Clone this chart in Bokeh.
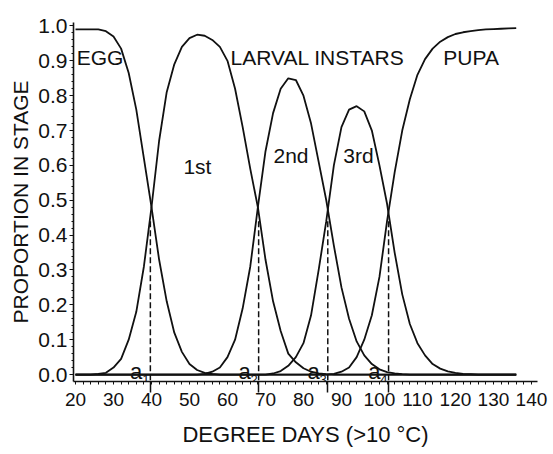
import numpy as np
from bokeh.plotting import figure
from bokeh.models import Range1d, FixedTicker, LinearAxis, PrintfTickFormatter
from bokeh.core.properties import value
from bokeh.embed import file_html
from bokeh.resources import INLINE

# ---------------- data ----------------
DEGREE_DAYS = list(range(20, 137, 2))  # 20, 22, ..., 136

EGG = [0.99, 0.99, 0.99, 0.99, 0.985, 0.97, 0.935, 0.865, 0.76, 0.62,
       0.48, 0.33, 0.21, 0.12, 0.065, 0.03, 0.013, 0.005, 0.002, 0.0,
       0, 0, 0, 0, 0, 0, 0, 0, 0, 0,
       0, 0, 0, 0, 0, 0, 0, 0, 0, 0,
       0, 0, 0, 0, 0, 0, 0, 0, 0, 0,
       0, 0, 0, 0, 0, 0, 0, 0, 0]

FIRST = [0.0, 0.0, 0.0, 0.002, 0.005, 0.02, 0.045, 0.10, 0.18, 0.31,
         0.48, 0.67, 0.81, 0.89, 0.94, 0.965, 0.975, 0.972, 0.96, 0.94,
         0.90, 0.82, 0.71, 0.59, 0.48, 0.33, 0.21, 0.125, 0.06, 0.035,
         0.018, 0.008, 0.003, 0.001, 0, 0, 0, 0, 0, 0,
         0, 0, 0, 0, 0, 0, 0, 0, 0, 0,
         0, 0, 0, 0, 0, 0, 0, 0, 0]

SECOND = [0, 0, 0, 0, 0, 0, 0, 0, 0, 0,
          0, 0, 0, 0, 0, 0, 0, 0.002, 0.008, 0.02,
          0.05, 0.10, 0.19, 0.31, 0.48, 0.64, 0.75, 0.82, 0.85, 0.845,
          0.80, 0.72, 0.61, 0.50, 0.37, 0.25, 0.16, 0.095, 0.055, 0.03,
          0.015, 0.007, 0.003, 0.001, 0, 0, 0, 0, 0, 0,
          0, 0, 0, 0, 0, 0, 0, 0, 0]

THIRD = [0, 0, 0, 0, 0, 0, 0, 0, 0, 0,
         0, 0, 0, 0, 0, 0, 0, 0, 0, 0,
         0, 0, 0, 0, 0, 0, 0.003, 0.01, 0.025, 0.05,
         0.09, 0.17, 0.30, 0.44, 0.60, 0.71, 0.76, 0.77, 0.755, 0.70,
         0.60, 0.49, 0.35, 0.23, 0.145, 0.09, 0.055, 0.03, 0.017, 0.009,
         0.005, 0.002, 0.001, 0, 0, 0, 0, 0, 0]

PUPA = [0, 0, 0, 0, 0, 0, 0, 0, 0, 0,
        0, 0, 0, 0, 0, 0, 0, 0, 0, 0,
        0, 0, 0, 0, 0, 0, 0, 0, 0, 0,
        0, 0, 0, 0, 0.002, 0.008, 0.02, 0.05, 0.10, 0.17,
        0.28, 0.44, 0.58, 0.70, 0.79, 0.86, 0.905, 0.935, 0.955, 0.968,
        0.977, 0.982, 0.985, 0.988, 0.99, 0.991, 0.992, 0.993, 0.994]

A_POINTS = [39.7, 68.2, 86.4, 102.4]
A_SUBSCRIPTS = ["1", "2", "3", "4"]

X_TICKS = [20, 30, 40, 50, 60, 70, 80, 90, 100, 110, 120, 130, 140]
Y_TICKS = [0.0, 0.1, 0.2, 0.3, 0.4, 0.5, 0.6, 0.7, 0.8, 0.9, 1.0]

STAGE_LABELS = ["EGG", "LARVAL INSTARS", "PUPA", "1st", "2nd", "3rd"]
STAGE_LABEL_X = [20.3, 60.8, 116.8, 48.4, 72.1, 90.5]
STAGE_LABEL_Y = [0.91, 0.91, 0.91, 0.597, 0.628, 0.628]

FONT = "Liberation Sans"
INK = "#111111"

# ---------------- figure ----------------
p = figure(width=549, height=454, output_backend="svg", toolbar_location=None,
           x_range=Range1d(19.47, 141.6), y_range=Range1d(-0.02, 1.01),
           min_border_left=73, min_border_right=12, min_border_top=22,
           min_border_bottom=73)
p.grid.visible = False
p.outline_line_color = None
p.background_fill_color = "white"
p.border_fill_color = "white"

# x axis line with minor ticks and the tall marks at a1..a4
xa = p.xaxis[0]
xa.ticker = FixedTicker(ticks=A_POINTS, minor_ticks=list(np.arange(20, 141, 2)))
xa.major_label_overrides = {a: "" for a in A_POINTS}
xa.axis_line_width = 1.6
xa.axis_line_color = INK
xa.major_tick_out = 11
xa.major_tick_in = 0
xa.major_tick_line_width = 1.5
xa.major_tick_line_color = INK
xa.minor_tick_out = 3
xa.minor_tick_in = 0
xa.minor_tick_line_color = INK
xa.major_label_text_font_size = "1px"
xa.major_label_standoff = 0

# labelled x axis (labels + title only)
xl = LinearAxis(ticker=FixedTicker(ticks=X_TICKS, minor_ticks=[]),
                axis_label="DEGREE DAYS (>10 °C)")
xl.axis_line_color = None
xl.major_tick_line_color = None
xl.minor_tick_line_color = None
xl.major_tick_out = 0
xl.major_tick_in = 0
xl.major_label_standoff = 0
xl.major_label_text_font = FONT
xl.major_label_text_font_size = "19px"
xl.major_label_text_color = INK
xl.axis_label_text_font = FONT
xl.axis_label_text_font_size = "22px"
xl.axis_label_text_font_style = "normal"
xl.axis_label_text_color = INK
xl.axis_label_standoff = 13
p.add_layout(xl, "below")

# y axis
ya = p.yaxis[0]
ya.ticker = FixedTicker(ticks=Y_TICKS, minor_ticks=[i / 50 for i in range(0, 51)])
ya.formatter = PrintfTickFormatter(format="%.1f")
ya.axis_line_width = 1.6
ya.axis_line_color = INK
ya.major_tick_out = 4
ya.major_tick_in = 0
ya.major_tick_line_color = INK
ya.minor_tick_out = 2
ya.minor_tick_in = 0
ya.minor_tick_line_color = INK
ya.major_label_standoff = 2
ya.major_label_text_font = FONT
ya.major_label_text_font_size = "21px"
ya.major_label_text_color = INK
ya.axis_label = "PROPORTION IN STAGE"
ya.axis_label_text_font = FONT
ya.axis_label_text_font_size = "21px"
ya.axis_label_text_font_style = "normal"
ya.axis_label_text_color = INK
ya.axis_label_standoff = 3

# curves
for series in (EGG, FIRST, SECOND, THIRD, PUPA):
    p.line(DEGREE_DAYS, series, line_width=1.8, line_color=INK)

# dashed verticals at a1..a4
p.segment(x0=A_POINTS, y0=0.44, x1=A_POINTS, y1=-0.02,
          line_dash="6 3", line_width=1.5, line_color=INK)

# stage labels
p.text(x=STAGE_LABEL_X, y=STAGE_LABEL_Y, text=STAGE_LABELS,
       text_font=value(FONT), text_font_size="21px", text_color=INK,
       text_align="left", text_baseline="middle")

# a_i labels: letter sitting on the zero line, subscript dropping below it
p.text(x=A_POINTS, y=0.008, text=["a"] * len(A_POINTS), x_offset=-8,
       text_font=value(FONT), text_font_size="22px", text_color=INK,
       text_align="right", text_baseline="alphabetic")
p.text(x=A_POINTS, y=-0.013, text=A_SUBSCRIPTS, x_offset=-1,
       text_font=value(FONT), text_font_size="13px", text_color=INK,
       text_align="right", text_baseline="alphabetic")

open("out.html", "w").write(file_html(p, INLINE))
